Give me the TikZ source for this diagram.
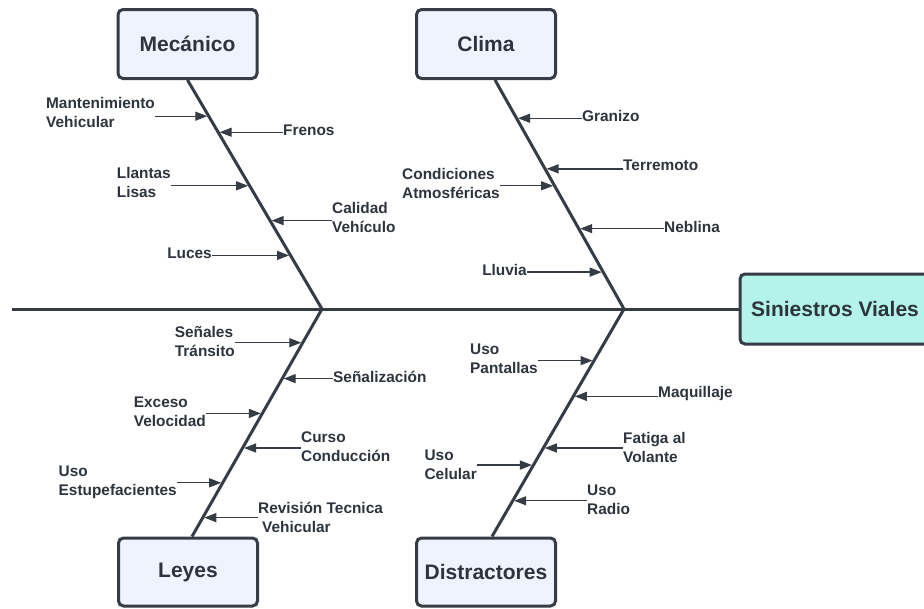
\documentclass[tikz,border=0pt]{standalone}
\usepackage{fontspec}
\setmainfont{Liberation Sans}
\usetikzlibrary{arrows.meta,calc}
\definecolor{ink}{HTML}{363C45}
\definecolor{txt}{HTML}{2E343C}
\definecolor{boxfill}{HTML}{EDF4FF}
\definecolor{mint}{HTML}{B4F3EA}
\begin{document}
\begin{tikzpicture}[x=1pt,y=-1pt,
  catbox/.style={draw=ink, line width=3pt, rounded corners=5pt, fill=boxfill, minimum width=139pt, minimum height=69pt, inner sep=0pt, font=\fontsize{21}{25}\selectfont\bfseries, text=txt},
  bone/.style={draw=ink, line width=3pt},
  lbl/.style={inner sep=0pt, align=left, font=\fontsize{15.4}{19}\selectfont\bfseries, text=txt},
  arr/.style={draw=ink, line width=1.3pt, -{Triangle[length=12pt,width=9pt]}, shorten >=1.5pt}]
\clip (0,0) rectangle (924,608);
\fill[white] (0,0) rectangle (924,608);

% category boxes
\node[catbox] (mec) at (187.5,44) {Mecánico};
\node[catbox] (cli) at (486,44) {Clima};
\node[catbox, minimum height=68pt] (ley) at (188,572) {Leyes};
\node[catbox, minimum height=68pt] (dis) at (486,572) {Distractores};
\node[catbox, fill=mint, minimum width=190pt, minimum height=70pt] (sin) at (835,309) {Siniestros Viales};

% spine and bones
\coordinate (tail) at (12,309);
\coordinate (j1) at (322,309);
\coordinate (j2) at (624,309);
\coordinate (mtop) at (mec.south);
\coordinate (ctop) at ([xshift=9pt]cli.south);
\coordinate (ltop) at ([xshift=4pt]ley.north);
\coordinate (dtop) at ([xshift=6pt]dis.north);
\draw[bone] (tail) -- (sin.west);
\draw[bone] (mtop) -- (j1);
\draw[bone] (ctop) -- (j2);
\draw[bone] (j1) -- (ltop);
\draw[bone] (j2) -- (dtop);

% tips on bones
\coordinate (a1) at ($(mtop)!0.158!(j1)$);
\coordinate (a2) at ($(mtop)!0.228!(j1)$);
\coordinate (a3) at ($(mtop)!0.462!(j1)$);
\coordinate (a4) at ($(mtop)!0.614!(j1)$);
\coordinate (a5) at ($(mtop)!0.766!(j1)$);
\coordinate (b1) at ($(ctop)!0.167!(j2)$);
\coordinate (b2) at ($(ctop)!0.388!(j2)$);
\coordinate (b3) at ($(ctop)!0.462!(j2)$);
\coordinate (b4) at ($(ctop)!0.649!(j2)$);
\coordinate (b5) at ($(ctop)!0.839!(j2)$);
\coordinate (c1) at ($(j1)!0.148!(ltop)$);
\coordinate (c2) at ($(j1)!0.306!(ltop)$);
\coordinate (c3) at ($(j1)!0.459!(ltop)$);
\coordinate (c4) at ($(j1)!0.611!(ltop)$);
\coordinate (c5) at ($(j1)!0.764!(ltop)$);
\coordinate (c6) at ($(j1)!0.917!(ltop)$);
\coordinate (d1) at ($(j2)!0.227!(dtop)$);
\coordinate (d2) at ($(j2)!0.384!(dtop)$);
\coordinate (d3) at ($(j2)!0.611!(dtop)$);
\coordinate (d4) at ($(j2)!0.686!(dtop)$);
\coordinate (d5) at ($(j2)!0.843!(dtop)$);

% Mecánico labels
\node[lbl,anchor=east] (la1) at (155,112.5) {Mantenimiento\\Vehicular};
\node[lbl,anchor=west] (la2) at (283,130) {Frenos};
\node[lbl,anchor=east] (la3) at (171,182.5) {Llantas\\Lisas};
\node[lbl,anchor=west] (la4) at (332,217.5) {Calidad\\Vehículo};
\node[lbl,anchor=east] (la5) at (212,253) {Luces};
\draw[arr] (la1.east |- a1) -- (a1);
\draw[arr] (la2.west |- a2) -- (a2);
\draw[arr] (la3.east |- a3) -- (a3);
\draw[arr] (la4.west |- a4) -- (a4);
\draw[arr] (la5.east |- a5) -- (a5);

% Clima labels
\node[lbl,anchor=west] (lb1) at (582,116) {Granizo};
\node[lbl,anchor=west] (lb2) at (623,165) {Terremoto};
\node[lbl,anchor=east] (lb3) at (500,183.5) {Condiciones\\Atmosféricas};
\node[lbl,anchor=west] (lb4) at (664,227) {Neblina};
\node[lbl,anchor=east] (lb5) at (527,270) {Lluvia};
\draw[arr] (lb1.west |- b1) -- (b1);
\draw[arr] (lb2.west |- b2) -- (b2);
\draw[arr] (lb3.east |- b3) -- (b3);
\draw[arr] (lb4.west |- b4) -- (b4);
\draw[arr] (lb5.east |- b5) -- (b5);

% Leyes labels
\node[lbl,anchor=east] (lc1) at (235,341.5) {Señales\\Tránsito};
\node[lbl,anchor=west] (lc2) at (333,377) {Señalización};
\node[lbl,anchor=east] (lc3) at (206,411.5) {Exceso\\Velocidad};
\node[lbl,anchor=west] (lc4) at (301,446.5) {Curso\\Conducción};
\node[lbl,anchor=east] (lc5) at (177,482.5) {Uso\\Estupefacientes};
\node[lbl,anchor=west] (lc6) at (258,517.5) {Revisión Tecnica\\\hspace*{4pt}Vehicular};
\draw[arr] (lc1.east |- c1) -- (c1);
\draw[arr] (lc2.west |- c2) -- (c2);
\draw[arr] (lc3.east |- c3) -- (c3);
\draw[arr] (lc4.west |- c4) -- (c4);
\draw[arr] (lc5.east |- c5) -- (c5);
\draw[arr] (lc6.west |- c6) -- (c6);

% Distractores labels
\node[lbl,anchor=east] (ld1) at (538,359) {Uso\\Pantallas};
\node[lbl,anchor=west] (ld2) at (658,394) {Maquillaje};
\node[lbl,anchor=west] (ld3) at (623,447) {Fatiga al\\Volante};
\node[lbl,anchor=east] (ld4) at (477,464.5) {Uso\\Celular};
\node[lbl,anchor=west] (ld5) at (587,500) {Uso\\Radio};
\draw[arr] (ld1.east |- d1) -- (d1);
\draw[arr] (ld2.west |- d2) -- (d2);
\draw[arr] (ld3.west |- d3) -- (d3);
\draw[arr] (ld4.east |- d4) -- (d4);
\draw[arr] (ld5.west |- d5) -- (d5);
\end{tikzpicture}
\end{document}
